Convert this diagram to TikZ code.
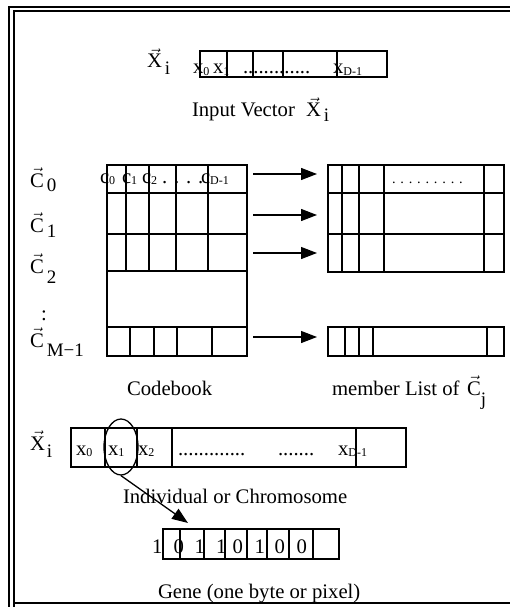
\documentclass[tikz,border=0pt]{standalone}
\usepackage{fontspec}
\setmainfont{Liberation Serif}
\usetikzlibrary{arrows.meta,shapes.geometric}

% vector symbol: letter with an arrow accent
\newcommand\vsym[1]{$\vec{\hbox{#1}}$}
% small lowered index inside a cell
\newcommand\cs[1]{\raisebox{-1.5pt}{\fontsize{12}{12}\selectfont#1}}
% vector label: letter, gap, lowered large index
\newcommand\vlab[4]{\vsym{#1}\hspace{#2pt}\raisebox{-#3pt}{\fontsize{19}{20}\selectfont#4}}

\tikzset{
  txt/.style={anchor=base west, inner sep=0pt, outer sep=0pt,
              font=\fontsize{20.7}{24}\selectfont},
  box/.style={line width=1.3pt},
  frame/.style={line width=2pt},
  arr/.style={line width=1.3pt, -{Triangle[length=16pt,width=12pt]}},
}

\begin{document}
\begin{tikzpicture}[x=1pt,y=-1pt]
\useasboundingbox (0,0) rectangle (510,607);

% double frame
\draw[frame] (9,607) -- (9,7) -- (510,7);
\draw[frame] (14,607) -- (14,11) -- (510,11);
\draw[frame] (14,603) -- (510,603);

% ---------- input vector ----------
\draw[box] (200,51) rectangle (387,77);
\foreach \x in {227,253,283,337} \draw[box] (\x,51) -- (\x,77);
\node[txt] (xin) at (147,68) {\vlab{X}{3}{7}{i}};
\node[txt] (iv0) at (193,74) {x\cs{0}};
\node[txt] (iv1) at (213,74) {x\cs{1}};
\node[txt] (ivd) at (243,74) {.............};
\node[txt] (ivn) at (333,74) {x\cs{D-1}};
\node[txt] (ivcap) at (192,117) {Input Vector};
\node[txt] (ivx) at (306,117) {\vlab{X}{3}{5}{i}};

% ---------- codebook ----------
\draw[box] (107,165) rectangle (247,356);
\foreach \y in {193,234,271,327} \draw[box] (107,\y) -- (247,\y);
\foreach \x in {126,149,176,208} \draw[box] (\x,165) -- (\x,271);
\foreach \x in {130,154,177,212} \draw[box] (\x,327) -- (\x,356);
\node[txt] (cb0) at (100,183) {c\cs{0}};
\node[txt] (cb1) at (122,183) {c\cs{1}};
\node[txt] (cb2) at (142,183) {c\cs{2}};
\node[txt] (cbd) at (162,183) {. . . .};
\node[txt] (cbn) at (201,183) {c\cs{D-1}};

% codevector labels
\node[txt] (c0) at (30,187) {\vlab{C}{3}{4}{0}};
\node[txt] (c1) at (30,232) {\vlab{C}{3}{5}{1}};
\node[txt] (c2) at (30,273) {\vlab{C}{3}{10}{2}};
\node[txt] (cdots) at (41,320) {:};
\node[txt] (cm) at (30,347) {\vlab{C}{3}{9}{M−1}};

% ---------- member lists ----------
\draw[box] (328,165) rectangle (504,272);
\foreach \y in {193,234} \draw[box] (328,\y) -- (504,\y);
\foreach \x in {342,359,384,484} \draw[box] (\x,165) -- (\x,272);
\draw[box] (328,327) rectangle (504,356);
\foreach \x in {345,359,373,487} \draw[box] (\x,327) -- (\x,356);
\node[txt, font=\fontsize{14.4}{15}\selectfont] (mld) at (392,183) {. . . . . . . . .};

% arrows codebook -> member list
\foreach \n/\y in {0/174,1/215,2/253,3/337}{
  \coordinate (as\n) at (253,\y);
  \coordinate (ae\n) at (317,\y);
  \draw[arr] (as\n) -- (ae\n);
}

\node[txt] (cbcap) at (127,395) {Codebook};
\node[txt] (mlcap) at (332,395) {member List of};
\node[txt] (mlc) at (467,395) {\vlab{C}{0}{10}{j}};

% ---------- individual ----------
\draw[box] (71,428) rectangle (406,467);
\foreach \x in {105,137,172,356} \draw[box] (\x,428) -- (\x,467);
\node[txt] (ix) at (30,450) {\vlab{X}{2}{7}{i}};
\node[txt] (in0) at (76,455) {x\cs{0}};
\node[txt] (in1) at (108,455) {x\cs{1}};
\node[txt] (in2) at (138,455) {x\cs{2}};
\node[txt] (ind1) at (178,455) {.............};
\node[txt] (ind2) at (278,455) {.......};
\node[txt] (inn) at (338,455) {x\cs{D-1}};
\node[draw, line width=1.3pt, ellipse, minimum width=34pt, minimum height=56pt,
      inner sep=0pt] (sel) at (121,447) {};
\node[txt] (indcap) at (123,503) {Individual or Chromosome};

% ---------- gene ----------
\draw[box] (163,529) rectangle (339,559);
\foreach \x in {180,204,225,247,267,289,313} \draw[box] (\x,529) -- (\x,559);
\foreach \n/\x/\d in {1/152/1,2/173.5/0,3/194.5/1,4/216/1,5/232.5/0,6/254.7/1,7/274.5/0,8/296.5/0}
  \node[txt] (bit\n) at (\x,553) {\d};
\coordinate (gtip) at (188,523);
\draw[arr] (sel.south) -- (gtip);
\node[txt] (genecap) at (158,598) {Gene (one byte or pixel)};
\end{tikzpicture}
\end{document}
